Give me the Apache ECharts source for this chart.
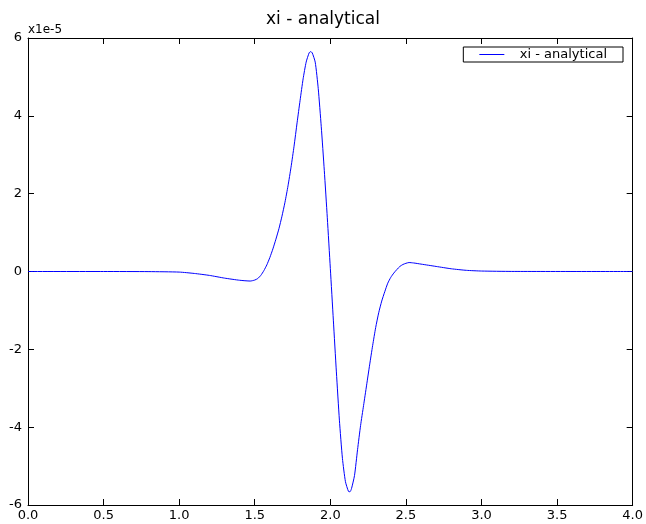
<!DOCTYPE html>
<html>
<head>
<meta charset="utf-8">
<script src="https://cdn.jsdelivr.net/npm/echarts@6/dist/echarts.min.js"></script>
<style>html,body{margin:0;padding:0;background:#fff}#c{width:646px;height:524px}</style>
</head>
<body>
<div id="c"></div>
<script>
var chartTitle = 'xi - analytical';
var seriesName = 'xi - analytical';
var scaleLabel = 'x1e-5';
var xTicks = [0, 0.5, 1.0, 1.5, 2.0, 2.5, 3.0, 3.5, 4.0];
var yTicks = [-6, -4, -2, 0, 2, 4, 6];
var xs = [0, 0.5, 0.8, 1.0, 1.1, 1.2, 1.3, 1.4, 1.47, 1.50, 1.52, 1.54, 1.56, 1.58, 1.60, 1.62, 1.64, 1.66, 1.68, 1.70, 1.72, 1.74, 1.76, 1.78, 1.80, 1.82, 1.84, 1.86, 1.87, 1.88, 1.90, 1.92, 1.94, 1.96, 1.98, 2.00, 2.02, 2.04, 2.06, 2.08, 2.10, 2.12, 2.13, 2.14, 2.16, 2.18, 2.20, 2.22, 2.24, 2.26, 2.28, 2.30, 2.32, 2.34, 2.36, 2.38, 2.40, 2.42, 2.44, 2.46, 2.48, 2.50, 2.52, 2.55, 2.60, 2.70, 2.80, 2.90, 3.0, 3.2, 4.0];
var ys = [0, 0, -0.003, -0.015, -0.05, -0.10, -0.17, -0.225, -0.245, -0.22, -0.18, -0.10, 0.02, 0.17, 0.36, 0.58, 0.83, 1.10, 1.42, 1.78, 2.20, 2.68, 3.22, 3.82, 4.40, 4.95, 5.38, 5.62, 5.65, 5.62, 5.38, 4.70, 3.72, 2.60, 1.38, 0.08, -1.25, -2.58, -3.82, -4.80, -5.40, -5.65, -5.66, -5.58, -5.24, -4.58, -3.96, -3.44, -2.92, -2.40, -1.90, -1.44, -1.06, -0.76, -0.52, -0.30, -0.15, -0.04, 0.05, 0.13, 0.18, 0.21, 0.23, 0.22, 0.19, 0.13, 0.07, 0.03, 0.012, 0.002, 0];

var data = xs.map(function (x, i) { return [x, ys[i]]; });
var txt = {color: '#000', fontFamily: 'DejaVu Sans', fontSize: 13};
var tick = {show: true, inside: true, length: 6, lineStyle: {color: '#000', width: 1}};
var line = {show: true, onZero: false, lineStyle: {color: '#000', width: 1}};
var chart = echarts.init(document.getElementById('c'));
chart.setOption({
  animation: false,
  backgroundColor: '#fff',
  title: {text: chartTitle, left: 'center', top: 6, textStyle: {color: '#000', fontFamily: 'DejaVu Sans', fontSize: 17, fontWeight: 'normal'}},
  legend: {
    data: [{name: seriesName, icon: 'path://M0,0L1,0L1,0.04L0,0.04Z'}],
    right: 23, top: 47, orient: 'horizontal',
    itemWidth: 30, itemHeight: 1, itemGap: 10,
    padding: [1, 16, 1, 16],
    borderColor: '#000', borderWidth: 1, borderRadius: 0,
    backgroundColor: '#fff',
    textStyle: {color: '#000', fontFamily: 'DejaVu Sans', fontSize: 13, padding: [0, 0, 0, 8]}
  },
  graphic: [{type: 'text', left: 28, top: 24, style: {text: scaleLabel, fill: '#000', font: '12px DejaVu Sans'}}],
  grid: {left: 28, right: 10, top: 38, bottom: 19, containLabel: false},
  xAxis: [
    {type: 'value', min: 0, max: 4, interval: 0.5, position: 'bottom',
     axisLine: line, splitLine: {show: false}, axisTick: tick,
     axisLabel: Object.assign({margin: 4, formatter: function (v) { return v.toFixed(1); }}, txt)},
    {type: 'value', min: 0, max: 4, interval: 0.5, position: 'top',
     axisLine: line, splitLine: {show: false}, axisTick: tick, axisLabel: {show: false}}
  ],
  yAxis: [
    {type: 'value', min: -6, max: 6, interval: 2, position: 'left',
     axisLine: line, splitLine: {show: false}, axisTick: tick,
     axisLabel: Object.assign({margin: 6}, txt)},
    {type: 'value', min: -6, max: 6, interval: 2, position: 'right',
     axisLine: line, splitLine: {show: false}, axisTick: tick, axisLabel: {show: false}}
  ],
  series: [{
    name: seriesName, type: 'line', data: data, xAxisIndex: 0, yAxisIndex: 0,
    showSymbol: false, smooth: 0.2,
    lineStyle: {color: '#0000ff', width: 1}, itemStyle: {color: '#0000ff'}
  }]
});
</script>
</body>
</html>
